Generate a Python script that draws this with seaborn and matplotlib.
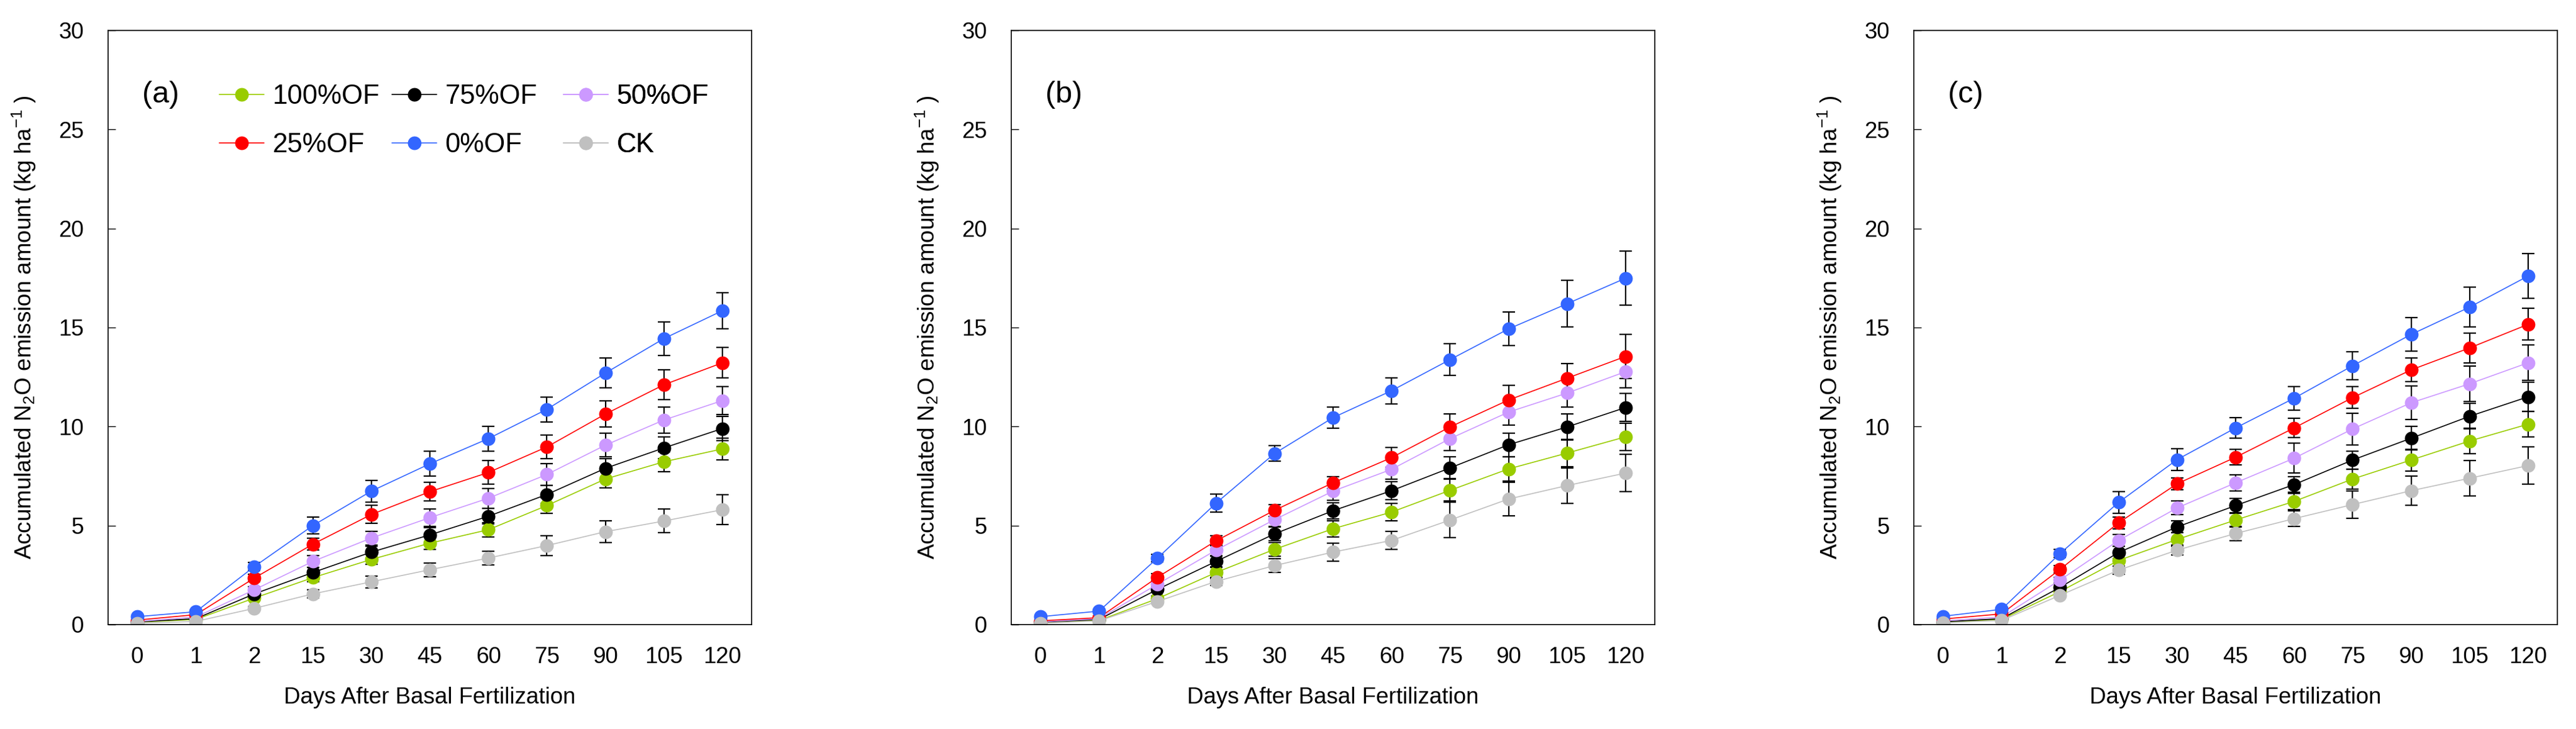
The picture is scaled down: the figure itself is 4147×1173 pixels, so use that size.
import numpy as np
import pandas as pd
import matplotlib
matplotlib.use("Agg")
import matplotlib.pyplot as plt
from matplotlib.ticker import FixedLocator
import seaborn as sns

# x categories (days after basal fertilization)
days = ["0", "1", "2", "15", "30", "45", "60", "75", "90", "105", "120"]
treatments = ["100%OF", "75%OF", "50%OF", "25%OF", "0%OF", "CK"]
colors = ["#99CC00", "#000000", "#CC99FF", "#FF0000", "#3366FF", "#C0C0C0"]

# panel (a): accumulated N2O, one row per treatment
a_mean = [
    [0.12, 0.26, 1.34, 2.37, 3.29, 4.11, 4.79, 6.01, 7.35, 8.22, 8.87],
    [0.14, 0.30, 1.55, 2.63, 3.66, 4.53, 5.47, 6.57, 7.89, 8.92, 9.90],
    [0.16, 0.38, 1.76, 3.19, 4.37, 5.40, 6.38, 7.58, 9.06, 10.33, 11.31],
    [0.23, 0.50, 2.35, 4.06, 5.56, 6.71, 7.68, 8.97, 10.63, 12.11, 13.22],
    [0.40, 0.65, 2.93, 5.00, 6.74, 8.12, 9.39, 10.87, 12.70, 14.44, 15.85],
    [0.07, 0.16, 0.82, 1.55, 2.16, 2.77, 3.36, 3.99, 4.69, 5.23, 5.80],
]
a_err = [
    [0.02, 0.04, 0.12, 0.20, 0.25, 0.32, 0.35, 0.40, 0.45, 0.50, 0.55],
    [0.02, 0.04, 0.12, 0.25, 0.30, 0.35, 0.40, 0.45, 0.50, 0.55, 0.60],
    [0.02, 0.05, 0.15, 0.30, 0.35, 0.45, 0.50, 0.55, 0.60, 0.65, 0.70],
    [0.03, 0.06, 0.18, 0.30, 0.45, 0.47, 0.60, 0.60, 0.66, 0.75, 0.77],
    [0.03, 0.07, 0.20, 0.42, 0.55, 0.63, 0.63, 0.63, 0.75, 0.85, 0.92],
    [0.01, 0.03, 0.10, 0.20, 0.30, 0.35, 0.35, 0.50, 0.55, 0.60, 0.75],
]

# panel (b)
b_mean = [
    [0.09, 0.21, 1.31, 2.63, 3.80, 4.84, 5.68, 6.78, 7.86, 8.66, 9.48],
    [0.12, 0.26, 1.78, 3.19, 4.58, 5.75, 6.76, 7.91, 9.08, 9.98, 10.96],
    [0.14, 0.30, 2.04, 3.76, 5.30, 6.74, 7.84, 9.39, 10.73, 11.69, 12.77],
    [0.19, 0.35, 2.39, 4.23, 5.77, 7.16, 8.43, 9.98, 11.34, 12.44, 13.54],
    [0.40, 0.68, 3.36, 6.13, 8.64, 10.45, 11.81, 13.38, 14.93, 16.20, 17.49],
    [0.07, 0.19, 1.17, 2.18, 2.98, 3.66, 4.25, 5.28, 6.34, 7.02, 7.65],
]
b_err = [
    [0.02, 0.04, 0.12, 0.30, 0.35, 0.40, 0.45, 0.55, 0.60, 0.70, 0.70],
    [0.02, 0.04, 0.15, 0.30, 0.35, 0.40, 0.45, 0.55, 0.60, 0.65, 0.70],
    [0.02, 0.05, 0.15, 0.30, 0.35, 0.45, 0.50, 0.60, 0.65, 0.70, 0.80],
    [0.03, 0.05, 0.18, 0.25, 0.30, 0.30, 0.50, 0.66, 0.73, 0.75, 1.10],
    [0.03, 0.07, 0.20, 0.45, 0.40, 0.52, 0.66, 0.80, 0.85, 1.17, 1.36],
    [0.01, 0.03, 0.10, 0.20, 0.35, 0.45, 0.45, 0.90, 0.85, 0.90, 0.95],
]

# panel (c)
c_mean = [
    [0.12, 0.26, 1.67, 3.24, 4.30, 5.28, 6.22, 7.35, 8.31, 9.27, 10.12],
    [0.14, 0.30, 1.88, 3.64, 4.93, 6.01, 7.07, 8.31, 9.41, 10.52, 11.50],
    [0.19, 0.38, 2.25, 4.25, 5.89, 7.16, 8.40, 9.88, 11.20, 12.16, 13.22],
    [0.28, 0.54, 2.79, 5.14, 7.11, 8.45, 9.93, 11.46, 12.86, 13.97, 15.16],
    [0.42, 0.77, 3.59, 6.17, 8.33, 9.93, 11.43, 13.07, 14.65, 16.03, 17.60],
    [0.09, 0.21, 1.48, 2.75, 3.76, 4.60, 5.35, 6.06, 6.76, 7.39, 8.03],
]
c_err = [
    [0.02, 0.04, 0.12, 0.30, 0.35, 0.35, 0.40, 0.50, 0.55, 0.65, 0.65],
    [0.02, 0.04, 0.15, 0.30, 0.30, 0.35, 0.40, 0.45, 0.60, 0.65, 0.75],
    [0.02, 0.05, 0.15, 0.30, 0.35, 0.40, 0.75, 0.80, 0.85, 0.90, 0.90],
    [0.03, 0.06, 0.18, 0.30, 0.30, 0.40, 0.50, 0.55, 0.60, 0.75, 0.80],
    [0.03, 0.07, 0.20, 0.55, 0.56, 0.52, 0.60, 0.72, 0.85, 1.00, 1.13],
    [0.01, 0.03, 0.10, 0.20, 0.25, 0.35, 0.40, 0.70, 0.75, 0.90, 0.95],
]

panels = [("(a)", a_mean, a_err), ("(b)", b_mean, b_err), ("(c)", c_mean, c_err)]

sns.set_style("white")
plt.rcParams["font.family"] = ["Liberation Sans", "DejaVu Sans"]
plt.rcParams["mathtext.fontset"] = "custom"
plt.rcParams["mathtext.rm"] = "Liberation Sans"
plt.rcParams["mathtext.it"] = "Liberation Sans:italic"
plt.rcParams["text.color"] = "black"
plt.rcParams["axes.labelcolor"] = "black"
plt.rcParams["xtick.color"] = "black"
plt.rcParams["ytick.color"] = "black"
plt.rcParams["axes.edgecolor"] = "black"

W, H = 4147, 1173
fig = plt.figure(figsize=(W / 100, H / 100), dpi=100)
lefts = [174, 1628, 3081]
pos = np.arange(len(days))

for i, (tag, means, errs) in enumerate(panels):
    ax = fig.add_axes([lefts[i] / W, (H - 1005) / H, 1036 / W, 956 / H])

    rows = []
    for t, m in zip(treatments, means):
        for j, v in enumerate(m):
            rows.append({"pos": j, "value": v, "treatment": t})
    df = pd.DataFrame(rows)

    sns.lineplot(data=df, x="pos", y="value", hue="treatment",
                 hue_order=treatments, palette=colors, marker="o",
                 markersize=15.8, markeredgewidth=0, linewidth=1.2,
                 errorbar=None, legend=False, ax=ax, zorder=2)
    lines = list(ax.get_lines())[:6]

    for m, e in zip(means, errs):
        ax.errorbar(pos, m, yerr=e, fmt="none", ecolor="black",
                    elinewidth=1.6, capsize=7.2, capthick=1.6, zorder=1)

    ax.set_xlim(-0.5, 10.5)
    ax.set_ylim(0, 30)
    ax.set_xticks(pos)
    ax.set_xticklabels(days)
    ax.xaxis.set_minor_locator(FixedLocator(np.arange(0.5, 10, 1)))
    ax.set_yticks(range(0, 31, 5))
    ax.tick_params(axis="x", which="major", length=0, pad=25, labelsize=26.5)
    ax.tick_params(axis="x", which="minor", direction="in", length=8, width=1.0)
    ax.tick_params(axis="y", direction="in", length=8.6, width=1.0,
                   pad=28, labelsize=26.5, left=True, right=False)
    for sp in ax.spines.values():
        sp.set_linewidth(1.2)
        sp.set_color("black")

    ax.set_xlabel("Days After Basal Fertilization", fontsize=26.5)
    ax.set_ylabel(r"Accumulated N$_\mathregular{2}$O emission amount (kg ha$^\mathregular{-1}$ )",
                  fontsize=26.5)
    ax.xaxis.set_label_coords(0.5, -0.1046)
    ax.yaxis.set_label_coords(-0.109, 0.5)

    ax.text(0.053, 0.892, tag, transform=ax.transAxes, fontsize=35,
            ha="left", va="center")

    if i == 0:
        col_x = [0.1728, 0.4411, 0.7075]
        for c, x in enumerate(col_x):
            idx = [c, c + 3]
            leg = ax.legend([lines[k] for k in idx], [treatments[k] for k in idx],
                            loc="center left", bbox_to_anchor=(x, 0.8478),
                            frameon=False, fontsize=31.5, handlelength=1.65,
                            handletextpad=0.3, borderpad=0, borderaxespad=0,
                            labelspacing=0.85)
            ax.add_artist(leg)

fig.savefig("out.png", dpi=100)
